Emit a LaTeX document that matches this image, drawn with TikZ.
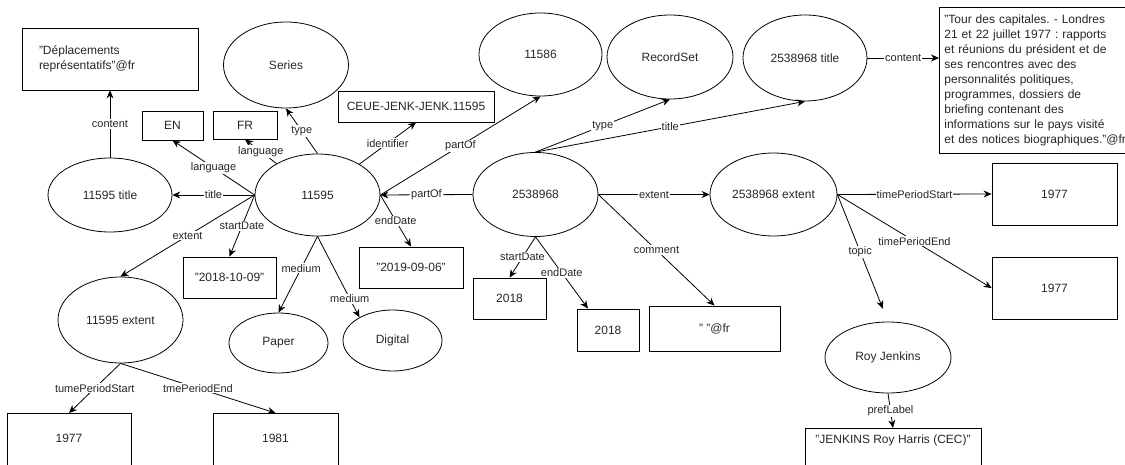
\documentclass[tikz,border=0pt]{standalone}
\usepackage{fontspec}
\setmainfont{Liberation Sans}
\usetikzlibrary{shapes.geometric,arrows.meta}
\frenchspacing
\begin{document}
\begin{tikzpicture}[x=1pt,y=-1pt,
  every node/.style={font=\fontsize{12}{14.9}\selectfont, text=black!85},
  ell/.style={ellipse, draw, line width=0.8pt, inner sep=0pt},
  box/.style={rectangle, draw, line width=0.8pt, inner sep=2pt},
  edge/.style={draw, line width=0.8pt, -{Stealth[length=8pt,width=7pt]}},
  lbl/.style={fill=white, inner sep=1pt, font=\fontsize{11}{13}\selectfont}
]
\useasboundingbox (0,0) rectangle (1125,465);
\clip (0,0) rectangle (1125,465);

% ---- nodes ----
\node[box, minimum width=176pt, minimum height=62pt, inner xsep=17pt, text width=142pt, align=left] (depl) at (110,59) {"Déplacements\\représentatifs"@fr};
\node[ell, minimum width=125pt, minimum height=86pt] (series) at (286,65) {Series};
\node[box, minimum width=61pt, minimum height=29pt] (en) at (172.5,125.5) {EN};
\node[box, minimum width=64pt, minimum height=28pt] (fr) at (245,125) {FR};
\node[box, minimum width=156pt, minimum height=31pt, inner xsep=0pt] (ceue) at (416,106.5) {CEUE-JENK-JENK.11595};
\node[ell, minimum width=124pt, minimum height=74pt] (t11595) at (110,195) {11595 title};
\node[ell, minimum width=125pt, minimum height=82pt] (n11595) at (317.5,195) {11595};
\node[box, minimum width=93pt, minimum height=41pt] (d1) at (229.5,277.5) {"2018-10-09"};
\node[ell, minimum width=125pt, minimum height=86pt] (ext1) at (120.5,320) {11595 extent};
\node[ell, minimum width=99pt, minimum height=60pt] (paper) at (278.5,343) {Paper};
\node[ell, minimum width=99pt, minimum height=61pt] (digital) at (392.5,340.5) {Digital};
\node[box, anchor=north, minimum width=124pt, text height=25pt, text depth=29pt, inner ysep=4pt] (y1977c) at (69,413) {1977};
\node[box, anchor=north, minimum width=125pt, text height=25pt, text depth=29pt, inner ysep=4pt] (y1981) at (275.5,413) {1981};
\node[box, minimum width=104pt, minimum height=41pt] (d2) at (411,267.5) {"2019-09-06"};
\node[ell, minimum width=125pt, minimum height=84pt] (n2538968) at (535.5,194.5) {2538968};
\node[ell, minimum width=123pt, minimum height=83pt] (n11586) at (540.5,54.5) {11586};
\node[ell, minimum width=126pt, minimum height=84pt] (recordset) at (670,57) {RecordSet};
\node[ell, minimum width=124pt, minimum height=86pt] (t2538968) at (805,58) {2538968 title};
\node[box, anchor=north west, minimum height=146pt, minimum width=220pt, text width=210pt, align=left, inner xsep=2pt] (big) at (939,7) {"Tour des capitales. - Londres\\21 et 22 juillet 1977 : rapports\\et réunions du président et de\\ses rencontres avec des\\personnalités politiques,\\programmes, dossiers de\\briefing contenant des\\informations sur le pays visité\\et des notices biographiques."@fr};
\node[ell, minimum width=127pt, minimum height=83pt] (ext2) at (773.5,194.5) {2538968 extent};
\node[box, minimum width=125pt, minimum height=62pt] (y1977a) at (1054.5,194) {1977};
\node[box, minimum width=125pt, minimum height=62pt] (y1977b) at (1054.5,288) {1977};
\node[ell, minimum width=126pt, minimum height=71pt] (roy) at (888,357.5) {Roy Jenkins};
\node[box, anchor=north, minimum width=176pt, text height=11pt, text depth=30pt, inner ysep=4pt] (jenk) at (893,428) {"JENKINS Roy Harris (CEC)"};
\node[box, minimum width=73pt, minimum height=41pt] (s2018) at (509.5,298.5) {2018};
\node[box, minimum width=62pt, minimum height=42pt] (e2018) at (608,330) {2018};
\node[box, minimum width=131pt, minimum height=45pt] (cmt) at (714.5,328.5) {" "@fr};

% ---- edges ----
\draw[edge] (t11595.north) -- node[lbl]{content} (depl.south);
\draw[edge] (n11595.west) -- node[lbl]{title} (t11595.east);
\draw[edge] (n11595.west) -- node[lbl]{language} (en.south);
\draw[edge] (n11595) -- node[lbl]{language} (fr.south);
\draw[edge] (n11595.north) -- node[lbl]{type} (series.south);
\draw[edge] (n11595) -- node[lbl]{identifier} (ceue.south);
\draw[edge] (n11595.east) -- node[lbl]{partOf} (n11586.south);
\draw[edge] (n2538968.west) -- node[lbl]{partOf} (n11595.east);
\draw[edge] (n11595.east) -- node[lbl]{endDate} (d2.north);
\draw[edge] (n11595.west) -- node[lbl]{startDate} (d1.north);
\draw[edge] (n11595.west) -- node[lbl]{extent} (ext1.north);
\draw[edge] (n11595.south) -- node[lbl, pos=0.42]{medium} (paper.north);
\draw[edge] (n11595.south) -- node[lbl, pos=0.77]{medium} (digital.145);
\draw[edge] (ext1.south) -- node[lbl]{tumePeriodStart} (y1977c.north);
\draw[edge] (ext1.south) -- node[lbl]{tmePeriodEnd} (y1981.north);
\draw[edge] (n2538968.north) -- node[lbl]{type} (recordset.south);
\draw[edge] (n2538968.north) -- node[lbl]{title} (t2538968.south);
\draw[edge] (n2538968.east) -- node[lbl]{extent} (ext2.west);
\draw[edge] (n2538968.south) -- node[lbl]{startDate} (s2018.north);
\draw[edge] (n2538968.south) -- node[lbl]{endDate} ([xshift=-20pt]e2018.north);
\draw[edge] (n2538968.east) -- node[lbl]{comment} (cmt.north);
\draw[edge] (t2538968.east) -- node[lbl]{content} (big.west |- t2538968.east);
\draw[edge] (ext2.east) -- node[lbl]{timePeriodStart} (y1977a.west);
\draw[edge] (ext2.east) -- node[lbl]{timePeriodEnd} (y1977b.west);
\draw[edge, shorten >=14pt] (ext2.east) -- node[lbl, pos=0.45]{topic} (roy.north);
\draw[edge] (roy.south) -- node[lbl]{prefLabel} (jenk.north);
\end{tikzpicture}
\end{document}
